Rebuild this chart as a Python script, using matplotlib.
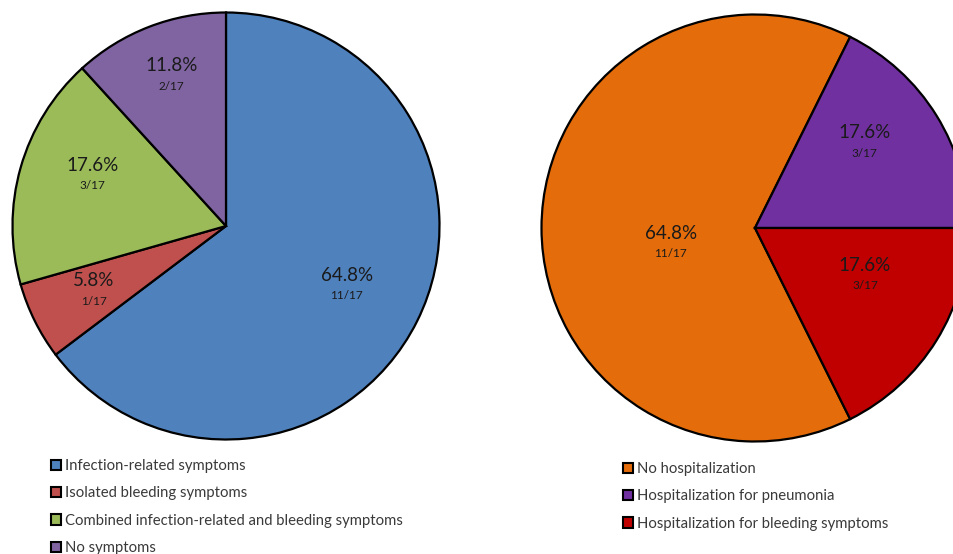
import matplotlib
matplotlib.use("Agg")
import matplotlib.pyplot as plt
import numpy as np

plt.rcParams['font.family'] = ['Lato', 'DejaVu Sans']

# Left pie: symptoms
sym_labels = ["Infection-related symptoms", "Isolated bleeding symptoms",
              "Combined infection-related and bleeding symptoms", "No symptoms"]
sym_counts = [11, 1, 3, 2]
sym_pct = ["64.8%", "5.8%", "17.6%", "11.8%"]
sym_colors = ["#4F81BD", "#C0504D", "#9BBB59", "#8064A2"]

# Right pie: hospitalization
hosp_labels = ["No hospitalization", "Hospitalization for pneumonia",
               "Hospitalization for bleeding symptoms"]
hosp_counts = [11, 3, 3]
hosp_pct = ["64.8%", "17.6%", "17.6%"]
hosp_colors = ["#E46C0A", "#7030A0", "#C00000"]

total = 17

W, H = 954, 554
fig = plt.figure(figsize=(W / 100, H / 100), dpi=100)

R_PX = 213.5
PAD = 1.03


def pie_axes(cx, cy):
    half = R_PX * PAD
    return fig.add_axes([(cx - half) / W, (H - cy - half) / H,
                         2 * half / W, 2 * half / H])


def draw_pie(ax, counts, colors, pct, start, label_pos):
    wedges, _ = ax.pie(counts, colors=colors, startangle=start,
                       counterclock=False, radius=1.0,
                       wedgeprops=dict(edgecolor="black", linewidth=1.6))
    for (r, ang), p, c in zip(label_pos, pct, counts):
        x = r * np.cos(np.radians(ang))
        y = r * np.sin(np.radians(ang))
        ax.text(x, y + 0.045, p, ha="center", va="center", fontsize=13.5,
                color="#1a1a1a")
        ax.text(x, y - 0.05, f"{c}/{total}", ha="center", va="center",
                fontsize=8.5, color="#1a1a1a")
    ax.set_xlim(-PAD, PAD)
    ax.set_ylim(-PAD, PAD)
    ax.set_aspect("equal")
    ax.axis("off")
    return wedges


ax1 = pie_axes(226, 226)
w1 = draw_pie(ax1, sym_counts, sym_colors, sym_pct, 90,
              [(0.63, -26), (0.69, 206), (0.67, 159), (0.75, 110)])

# Rotate so the two small slices sit on the right, split at 3 o'clock
right_start = 360 * (hosp_counts[0] + hosp_counts[1]) / total
ax2 = pie_axes(755, 228)
w2 = draw_pie(ax2, hosp_counts, hosp_colors, hosp_pct, right_start,
              [(0.40, 190), (0.65, 38), (0.56, -23)])


def legend_at(ax, wedges, labels, x_px, y_px):
    leg = ax.legend(wedges, labels, loc="upper left",
                    bbox_to_anchor=(x_px / W, 1 - y_px / H),
                    bbox_transform=fig.transFigure, frameon=False,
                    fontsize=10.7, handlelength=0.7, handleheight=0.7,
                    handletextpad=0.25, labelspacing=0.9, borderpad=0,
                    borderaxespad=0)
    for t in leg.get_texts():
        t.set_color("#3a3a3a")
    for h in leg.legend_handles:
        h.set_linewidth(1.5)
        h.set_edgecolor("black")
    return leg


legend_at(ax1, w1, sym_labels, 51, 459)
legend_at(ax2, w2, hosp_labels, 623, 462)

fig.savefig("out.png", dpi=100)
